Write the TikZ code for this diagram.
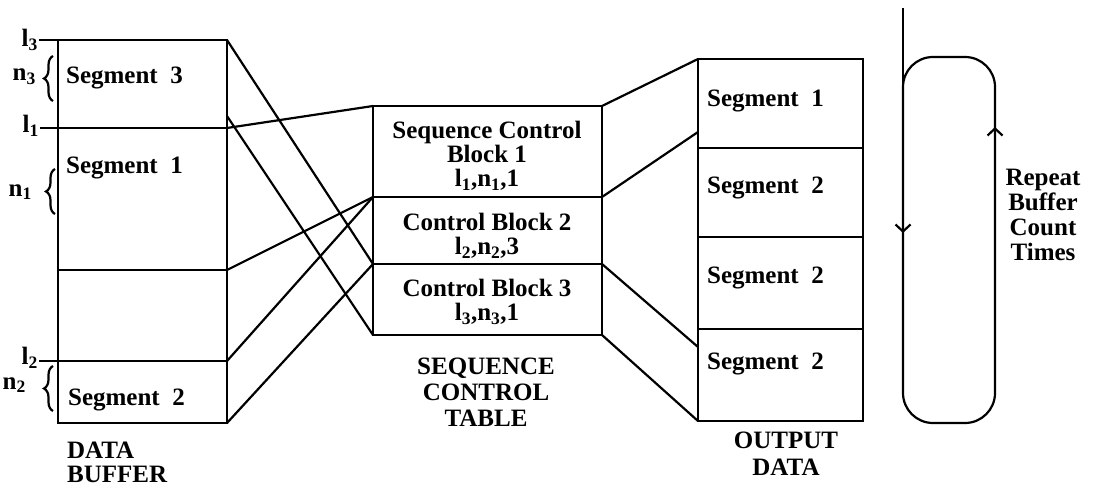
\documentclass[tikz,border=0pt]{standalone}
\usepackage{fontspec}
\setmainfont{Liberation Serif}
\usetikzlibrary{arrows.meta,decorations.pathreplacing}
\begin{document}
\begin{tikzpicture}[x=1pt,y=-1pt,line width=2.2pt,
  cell/.style={draw,anchor=north west,inner sep=0pt,outer sep=0pt},
  txt/.style={font=\fontsize{25}{24}\selectfont\bfseries,inner sep=0pt},
  lbl/.style={font=\fontsize{25}{24}\selectfont\bfseries,inner sep=0pt},
  tick/.style={line width=1.2pt},
  brc/.style={decorate,decoration={brace,amplitude=9pt},line width=2.2pt},
  arr/.style={-{Straight Barb[length=7pt,width=15pt,line width=2.2pt]}}]
\useasboundingbox (0,0) rectangle (1094,489);
% ---------- data buffer ----------
\node[cell,minimum width=169pt,minimum height=88pt]  (d3) at (58,40) {};
\node[cell,minimum width=169pt,minimum height=142pt] (d1) at (58,128) {};
\node[cell,minimum width=169pt,minimum height=91pt]  (d0) at (58,270) {};
\node[cell,minimum width=169pt,minimum height=62pt]  (d2) at (58,361) {};
\node[txt,anchor=west] (t3) at (65,78) {Segment\ \ 3};
\node[txt,anchor=west] (t1) at (65,168) {Segment\ \ 1};
\node[txt,anchor=west] (t2) at (67,400) {Segment\ \ 2};
\node[txt,anchor=north west,align=left] (db) at (66,441) {DATA\\BUFFER};
% left labels
\node[lbl,anchor=east] (l3) at (39,40) {l\textsubscript{3}};
\node[lbl,anchor=east] (l1) at (40,126) {l\textsubscript{1}};
\node[lbl,anchor=east] (l2) at (39,358) {l\textsubscript{2}};
\draw[tick] (l3.east) -- (d3.north west);
\draw[tick] (l1.east |- d1.north west) -- (d1.north west);
\draw[tick] (l2.east |- d2.north west) -- (d2.north west);
\node[lbl,anchor=east] (n3) at (37,77) {n\textsubscript{3}};
\node[lbl,anchor=east] (n1) at (33,192) {n\textsubscript{1}};
\node[lbl,anchor=east] (n2) at (27,385) {n\textsubscript{2}};
\coordinate (b3a) at (53,101); \coordinate (b3b) at (53,56);
\coordinate (b1a) at (55,214); \coordinate (b1b) at (55,169);
\coordinate (b2a) at (53,411); \coordinate (b2b) at (53,366);
\draw[brc] (b3a) -- (b3b);
\draw[brc] (b1a) -- (b1b);
\draw[brc] (b2a) -- (b2b);
% ---------- sequence control table ----------
\node[cell,minimum width=229pt,minimum height=91pt] (s1) at (373,106) {};
\node[cell,minimum width=229pt,minimum height=67pt] (s2) at (373,197) {};
\node[cell,minimum width=229pt,minimum height=71pt] (s3) at (373,264) {};
\node[txt,align=center] (st1) at (487,156) {Sequence Control\\Block 1\\l\textsubscript{1},n\textsubscript{1},1};
\node[txt,align=center] (st2) at (487,236) {Control Block 2\\l\textsubscript{2},n\textsubscript{2},3};
\node[txt,align=center] (st3) at (487,302) {Control Block 3\\l\textsubscript{3},n\textsubscript{3},1};
\node[txt,align=center,anchor=north] (sct) at (486,357) {SEQUENCE\\[2pt]CONTROL\\[2pt]TABLE};
% ---------- output data ----------
\node[cell,minimum width=165pt,minimum height=89pt] (o1) at (698,59) {};
\node[cell,minimum width=165pt,minimum height=89pt] (o2) at (698,148) {};
\node[cell,minimum width=165pt,minimum height=92pt] (o3) at (698,237) {};
\node[cell,minimum width=165pt,minimum height=92pt] (o4) at (698,329) {};
\node[txt,anchor=west] (ot1) at (706,101) {Segment\ \ 1};
\node[txt,anchor=west] (ot2) at (706,188) {Segment\ \ 2};
\node[txt,anchor=west] (ot3) at (706,278) {Segment\ \ 2};
\node[txt,anchor=west] (ot4) at (706,364) {Segment\ \ 2};
\node[txt,align=center,anchor=north] (od) at (786,431) {OUTPUT\\[3pt]DATA};
% ---------- connectors: data buffer -> table ----------
\coordinate (d3s) at (227,116);
\draw (d3.north east) -- (s3.north west);
\draw (d3s) -- (s3.south west);
\draw (d1.north east) -- (s1.north west);
\draw (d0.north east) -- (s1.south west);
\draw (d2.north east) -- (s2.north west);
\draw (d2.south east) -- (s2.south west);
% ---------- connectors: table -> output ----------
\coordinate (oa) at (698,132);
\coordinate (ob) at (698,347);
\draw (s1.north east) -- (o1.north west);
\draw (s1.south east) -- (oa);
\draw (s3.north east) -- (ob);
\draw (s3.south east) -- (o4.south west);
% ---------- repeat loop ----------
\node[draw,rounded corners=30pt,minimum width=92pt,minimum height=366pt,inner sep=0pt,outer sep=0pt] (loop) at (949,240) {};
\coordinate (entry) at (903,8);
\draw (entry) -- (entry |- loop.west);
\coordinate (dtip) at (903,233);
\coordinate (utip) at (995,127);
\draw[arr] (903,212) -- (dtip);
\draw[arr] (995,148) -- (utip);
\node[txt,align=center] (rep) at (1043,215) {Repeat\\[1pt]Buffer\\[1pt]Count\\[1pt]Times};
\end{tikzpicture}
\end{document}
